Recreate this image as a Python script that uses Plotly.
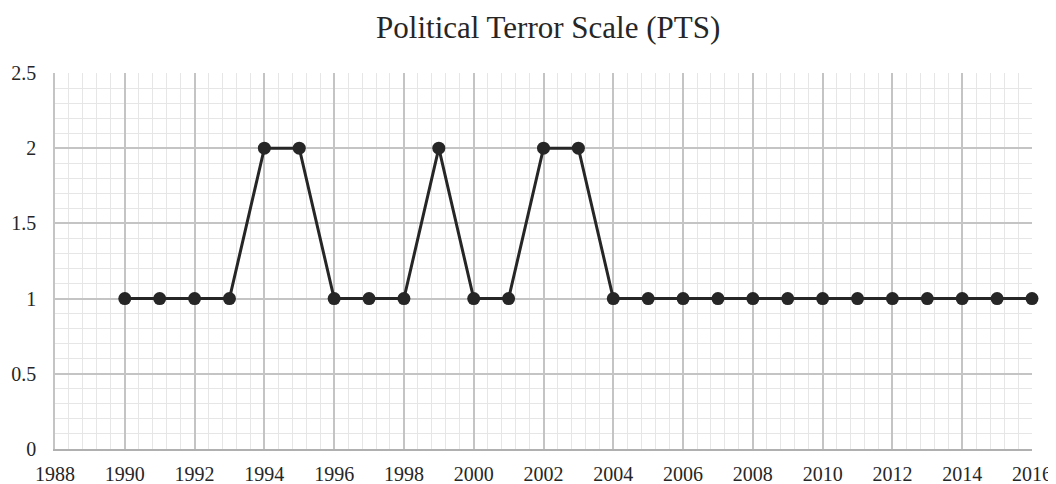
import plotly.graph_objects as go

years = list(range(1990, 2017))
pts = [1, 1, 1, 1, 2, 2, 1, 1, 1, 2, 1, 1, 2, 2, 1,
       1, 1, 1, 1, 1, 1, 1, 1, 1, 1, 1, 1]
x_ticks = list(range(1988, 2017, 2))
y_ticks = [0, 0.5, 1, 1.5, 2, 2.5]

FONT = "Liberation Serif"

# page body has an 8px default margin; figure size compensates
W, H = 1048, 476

fig = go.Figure()
fig.add_trace(go.Scatter(
    x=years, y=pts, mode="lines+markers",
    line=dict(color="#262626", width=3),
    marker=dict(color="#262626", size=13),
    cliponaxis=False, showlegend=False,
))

fig.update_layout(
    width=W, height=H,
    margin=dict(l=47, r=24, t=65, b=35),
    paper_bgcolor="white", plot_bgcolor="white",
    title=dict(text="Political Terror Scale (PTS)", x=529/W, xanchor="center",
               y=1 - 19/H, yanchor="middle", xref="paper", yref="container",
               font=dict(family=FONT, size=31, color="#262626")),
    font=dict(family=FONT, size=20, color="#262626"),
    xaxis=dict(range=[1988, 2016], tickmode="array", tickvals=x_ticks,
               showgrid=True, gridcolor="#c4c4c4", gridwidth=1.5,
               minor=dict(dtick=0.4, tick0=1988, showgrid=True, gridcolor="#e6e6e6", gridwidth=1),
               showline=True, linecolor="#b0b0b0", linewidth=2,
               ticks="outside", ticklen=6, tickcolor="rgba(0,0,0,0)",
               zeroline=False, automargin=False, fixedrange=True),
    yaxis=dict(range=[0, 2.5], tickmode="array", tickvals=y_ticks,
               ticktext=["0", "0.5", "1", "1.5", "2", "2.5"],
               showgrid=True, gridcolor="#c4c4c4", gridwidth=1.5,
               minor=dict(dtick=0.1, tick0=0, showgrid=True, gridcolor="#e6e6e6", gridwidth=1),
               showline=True, linecolor="#c4c4c4", linewidth=1.5,
               ticks="outside", ticklen=13, tickcolor="rgba(0,0,0,0)",
               zeroline=False, automargin=False, fixedrange=True),
)

fig.write_html("out.html")
